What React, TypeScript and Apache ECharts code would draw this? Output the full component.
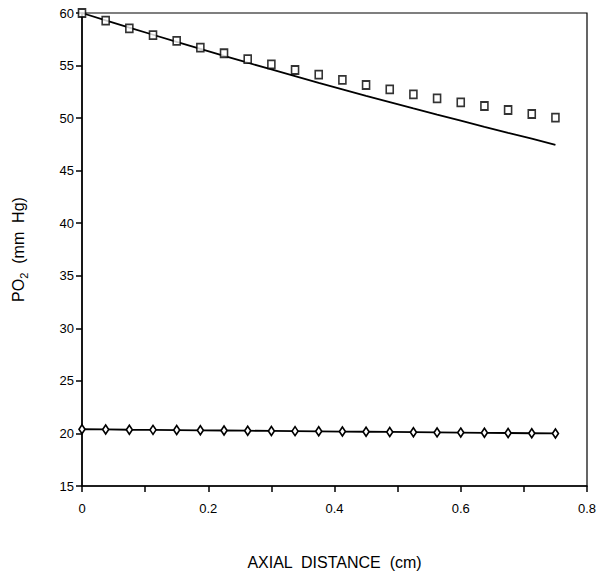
import React, { useEffect, useRef } from "react";
import * as echarts from "echarts";

const distances = [0, 0.0375, 0.075, 0.1125, 0.15, 0.1875, 0.225, 0.2625, 0.3, 0.3375, 0.375, 0.4125, 0.45, 0.4875, 0.525, 0.5625, 0.6, 0.6375, 0.675, 0.7125, 0.75];
const upperMeasured = [60, 59.27, 58.54, 57.9, 57.34, 56.7, 56.17, 55.62, 55.12, 54.58, 54.13, 53.63, 53.15, 52.74, 52.26, 51.88, 51.5, 51.15, 50.77, 50.39, 50.04];
const upperModel = [60, 59.3, 58.61, 57.93, 57.25, 56.58, 55.92, 55.27, 54.63, 53.99, 53.36, 52.74, 52.12, 51.52, 50.92, 50.33, 49.75, 49.17, 48.6, 48.04, 47.45];
const lowerMeasured = [20.4, 20.38, 20.35, 20.34, 20.32, 20.3, 20.28, 20.26, 20.24, 20.22, 20.2, 20.18, 20.16, 20.14, 20.12, 20.1, 20.08, 20.06, 20.04, 20.02, 20.0];
const xTicks = ["0", "0.2", "0.4", "0.6", "0.8"];

const FONT = "'Liberation Sans', Arial, Helvetica, sans-serif";
const INK = "#000";

function pairs(xs: number[], ys: number[]) {
  return xs.map((x, i) => [x, ys[i]]);
}

export default function App() {
  const ref = useRef<HTMLDivElement>(null);
  useEffect(() => {
    if (!ref.current) return;
    const chart = echarts.init(ref.current, undefined, { renderer: "svg" });
    chart.setOption({
      animation: false,
      backgroundColor: "#fff",
      grid: {
        left: 82,
        right: 17,
        top: 13,
        bottom: 97,
        show: true,
        borderColor: INK,
        borderWidth: 1.2,
      },
      xAxis: {
        type: "value",
        min: 0,
        max: 0.8,
        interval: 0.1,
        name: "AXIAL  DISTANCE  (cm)",
        nameLocation: "middle",
        nameGap: 68,
        nameTextStyle: { fontFamily: FONT, fontSize: 16, color: INK },
        axisLine: { show: true, lineStyle: { color: INK, width: 1.5 } },
        axisTick: { show: true, length: 6, lineStyle: { color: INK, width: 1.5 } },
        splitLine: { show: false },
        axisLabel: {
          margin: 16,
          fontFamily: FONT,
          fontSize: 13,
          color: INK,
          formatter: (v: number) => {
            const k = Math.round(v * 10);
            return k % 2 === 0 ? xTicks[k / 2] : "";
          },
        },
      },
      yAxis: {
        type: "value",
        min: 15,
        max: 60,
        interval: 5,
        name: "{a|PO}{s|2}{a|  (mm  Hg)}",
        nameLocation: "middle",
        nameGap: 56,
        nameRotate: 90,
        nameTextStyle: {
          fontFamily: FONT,
          color: INK,
          rich: {
            a: { fontFamily: FONT, fontSize: 16, color: INK, verticalAlign: "bottom", lineHeight: 20 },
            s: { fontFamily: FONT, fontSize: 11, color: INK, verticalAlign: "bottom", lineHeight: 14, padding: [0, 0, -3, 0] },
          },
        },
        axisLine: { show: true, lineStyle: { color: INK, width: 1.5 } },
        axisTick: { show: true, length: 6, lineStyle: { color: INK, width: 1.5 } },
        splitLine: { show: false },
        axisLabel: { margin: 8, fontFamily: FONT, fontSize: 13, color: INK },
      },
      series: [
        {
          type: "line",
          data: pairs(distances, upperModel),
          showSymbol: false,
          symbol: "none",
          clip: false,
          lineStyle: { color: INK, width: 1.8 },
          z: 2,
        },
        {
          type: "scatter",
          data: pairs(distances, upperMeasured),
          symbol: "rect",
          symbolSize: [7, 8],
          clip: false,
          itemStyle: { color: "#fff", borderColor: INK, borderWidth: 1.7 },
          z: 3,
        },
        {
          type: "line",
          data: pairs(distances, lowerMeasured),
          symbol: "diamond",
          symbolSize: [6, 9],
          showSymbol: true,
          clip: false,
          lineStyle: { color: INK, width: 1.8 },
          itemStyle: { color: "#fff", borderColor: INK, borderWidth: 1.7 },
          z: 3,
        },
      ],
    });
    return () => chart.dispose();
  }, []);
  return (
    <div
      ref={ref}
      style={{ position: "fixed", left: 0, top: 0, width: 604, height: 583, background: "#fff" }}
    />
  );
}
